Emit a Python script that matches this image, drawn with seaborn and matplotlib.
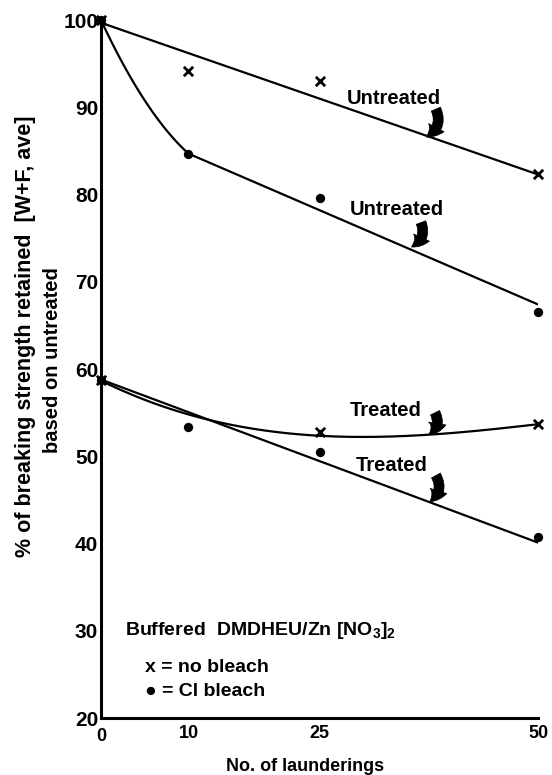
import numpy as np
import pandas as pd
import matplotlib
matplotlib.use("Agg")
import matplotlib.pyplot as plt
import seaborn as sns

# ---------------- data ----------------
launderings = [0, 10, 25, 50]
untreated_no_bleach = [100.0, 94.2, 93.0, 82.4]
untreated_cl_bleach = [100.0, 84.7, 79.6, 66.6]
treated_no_bleach_x = [0, 25, 50]
treated_no_bleach = [58.7, 52.8, 53.7]
treated_cl_bleach = [58.7, 53.4, 50.5, 40.7]

# hand-drawn fit curves (knots)
fit_unt_nb_x = [0, 50]
fit_unt_nb_y = [99.7, 82.3]
fit_unt_cl_curve_x = [0, 5, 10]
fit_unt_cl_curve_y = [100.0, 90.8, 84.7]
fit_unt_cl_line_x = [10, 50]
fit_unt_cl_line_y = [84.7, 67.4]
fit_trt_nb_x = [0, 10, 20, 37, 50]
fit_trt_nb_y = [58.7, 54.7, 52.9, 52.4, 53.7]
fit_trt_cl_x = [0, 50]
fit_trt_cl_y = [58.8, 40.1]

x_ticks = [10, 25, 50]
x_ticklabels = ["10", "25", "50"]
y_ticks = [20, 30, 40, 50, 60, 70, 80, 90, 100]

# ---------------- style ----------------
sns.set_theme(style="white")
plt.rcParams["font.family"] = ["Liberation Sans", "DejaVu Sans"]
plt.rcParams["font.weight"] = "bold"
plt.rcParams["mathtext.default"] = "regular"
plt.rcParams["text.color"] = "black"
plt.rcParams["axes.labelcolor"] = "black"
plt.rcParams["xtick.color"] = "black"
plt.rcParams["ytick.color"] = "black"

fig = plt.figure(figsize=(5.52, 7.75), dpi=100)
ax = fig.add_axes([0.183, 0.0735, 0.792, 0.9005])

LW = 1.6

# fit lines
sns.lineplot(x=fit_unt_nb_x, y=fit_unt_nb_y, ax=ax, color="black", lw=LW)
xs = np.linspace(0, 10, 60)
sns.lineplot(x=xs, y=np.polyval(np.polyfit(fit_unt_cl_curve_x, fit_unt_cl_curve_y, 2), xs),
             ax=ax, color="black", lw=LW)
sns.lineplot(x=fit_unt_cl_line_x, y=fit_unt_cl_line_y, ax=ax, color="black", lw=LW)
xs2 = np.linspace(0, 50, 200)
sns.lineplot(x=xs2, y=np.polyval(np.polyfit(fit_trt_nb_x, fit_trt_nb_y, 3), xs2),
             ax=ax, color="black", lw=LW)
sns.lineplot(x=fit_trt_cl_x, y=fit_trt_cl_y, ax=ax, color="black", lw=LW)

# markers
df_x = pd.DataFrame({"n": launderings + treated_no_bleach_x,
                     "v": untreated_no_bleach + treated_no_bleach})
df_o = pd.DataFrame({"n": launderings + launderings,
                     "v": untreated_cl_bleach + treated_cl_bleach})
sns.scatterplot(data=df_o, x="n", y="v", ax=ax, color="black", s=45,
                marker="o", edgecolor="black", linewidth=0, clip_on=False, zorder=5)
sns.scatterplot(data=df_x, x="n", y="v", ax=ax, color="black", s=45,
                marker="x", linewidth=2.0, clip_on=False, zorder=5)

# axes
ax.set_xlim(0, 50)
ax.set_ylim(20, 100)
sns.despine(ax=ax)
for s in ("left", "bottom"):
    ax.spines[s].set_linewidth(2.2)
    ax.spines[s].set_color("black")
ax.set_xticks(x_ticks)
ax.set_xticklabels(x_ticklabels, fontsize=13, fontweight="bold")
ax.set_yticks(y_ticks)
ax.set_yticklabels([str(v) for v in y_ticks], fontsize=15, fontweight="bold")
ax.tick_params(axis="y", direction="in", length=7, width=1.8, pad=2, colors="black")
ax.tick_params(axis="x", direction="in", length=7, width=1.8, pad=5, colors="black")
ax.text(0, 18.9, "0", fontsize=13, fontweight="bold", ha="center", va="top")
ax.set_xlabel("")
ax.set_ylabel("")

# labels with curved arrows
labels = [
    ("Untreated", (33.5, 91.0), (38.3, 89.8), (37.2, 86.6)),
    ("Untreated", (33.8, 78.3), (36.6, 76.8), (35.5, 74.0)),
    ("Treated", (32.6, 55.3), (38.2, 55.0), (37.5, 52.5)),
    ("Treated", (33.2, 49.0), (38.3, 47.8), (37.6, 44.8)),
]
for txt, pos, a0, a1 in labels:
    ax.text(pos[0], pos[1], txt, fontsize=14.5, fontweight="bold", ha="center", va="center")
    ax.annotate("", xy=a1, xytext=a0,
                arrowprops=dict(arrowstyle="simple,head_length=0.55,head_width=0.7,tail_width=0.4",
                                mutation_scale=18, shrinkA=0, shrinkB=0,
                                connectionstyle="arc3,rad=-0.45", fc="black", ec="black", lw=0.5))

# legend text
ax.text(2.7, 30, "Buffered  DMDHEU/Zn [NO$_3$]$_2$", fontsize=14, fontweight="bold",
        ha="left", va="center")
ax.text(5.0, 25.8, "x = no bleach", fontsize=14, fontweight="bold", ha="left", va="center")
ax.text(5.0, 23.0, "\u25cf = Cl bleach", fontsize=14, fontweight="bold", ha="left", va="center")

# axis titles
fig.text(0.046, 0.566, "% of breaking strength retained  [W+F, ave]", rotation=90,
         fontsize=15.5, fontweight="bold", ha="center", va="center")
fig.text(0.096, 0.535, "based on untreated", rotation=90,
         fontsize=14.5, fontweight="bold", ha="center", va="center")
fig.text(0.552, 0.0105, "No. of launderings", fontsize=13, fontweight="bold",
         ha="center", va="center")

fig.savefig("out.png", dpi=100)
